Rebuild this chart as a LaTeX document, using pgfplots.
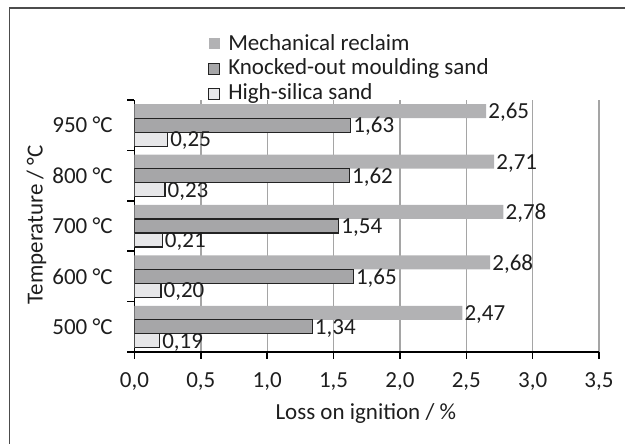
\documentclass[border=0pt]{standalone}
\usepackage{fontspec}
\setmainfont{Carlito}
\usepackage{pgfplots}
\pgfplotsset{compat=1.18}
\definecolor{mech}{RGB}{178,178,180}
\definecolor{knock}{RGB}{166,166,168}
\definecolor{silica}{RGB}{231,231,233}
\definecolor{edge}{RGB}{35,35,35}
\definecolor{gridc}{RGB}{165,165,165}
\definecolor{txt}{RGB}{30,30,30}
\newcommand{\fs}{\fontsize{23bp}{25bp}\selectfont}
\begin{document}
\fs
\begin{tikzpicture}[x=1bp,y=1bp]
\useasboundingbox (-134.5,-92) rectangle (490.5,352);
\draw[line width=1.5bp, black!70] (-125,-95) -- (-125,344) -- (495,344);
\begin{axis}[
  at={(0,0)}, anchor=south west,
  scale only axis, width=464.5bp, height=252bp,
  xmin=0, xmax=3.5, ymin=-0.5, ymax=4.5,
  axis lines*=left,
  axis line style={line width=1.5bp, black},
  xtick={0,0.5,...,3.5},
  xticklabel style={/pgf/number format/fixed, /pgf/number format/fixed zerofill, /pgf/number format/precision=1, /pgf/number format/use comma, yshift=-6bp},
  /pgf/number format/assume math mode=true,
  ytick={0,1,2,3,4},
  yticklabels={500 °C,600 °C,700 °C,800 °C,950 °C},
  minor ytick={-0.5,0.5,1.5,2.5,3.5,4.5},
  major y tick style={draw=none},
  tick align=outside,
  major tick length=7bp, minor tick length=7bp,
  tick style={line width=1.5bp, black},
  xtick pos=left, ytick pos=left,
  xmajorgrids,
  grid style={line width=1.3bp, gridc},
  ticklabel style={font=\fs, text=txt},
  yticklabel style={xshift=-7bp},
  xlabel={Loss on ignition / \%},
  ylabel={Temperature / °C},
  label style={font=\fs, text=txt},
  xlabel style={at={(axis description cs:0.498,-0.2698)}, anchor=base},
  ylabel style={at={(axis description cs:-0.198,0.505)}, anchor=base},
  xbar, bar width=14bp,
  nodes near coords,
  nodes near coords style={font=\fs, text=txt, inner sep=2bp, yshift=-1.5bp,
    /pgf/number format/fixed, /pgf/number format/fixed zerofill, /pgf/number format/precision=2, /pgf/number format/use comma},
  legend style={at={(0.152,1.278)}, anchor=north west, draw=none, fill=none,
    font=\fs, text=txt, row sep=1.5bp,
    /tikz/every odd column/.style={column sep=6bp}},
  legend cell align=left,
  legend image code/.code={\path[#1] (0bp,-5.5bp) rectangle (11bp,5.5bp);},
]
\addlegendimage{fill=mech, draw=none}
\addlegendimage{fill=knock, draw=edge, line width=1bp}
\addlegendimage{fill=silica, draw=edge, line width=1bp}
\addplot[fill=mech, draw=none, bar shift=14bp, forget plot] coordinates {(2.47,0) (2.68,1) (2.78,2) (2.71,3) (2.65,4)};
\addplot[fill=knock, draw=edge, line width=1.2bp, bar shift=0bp, forget plot] coordinates {(1.34,0) (1.65,1) (1.54,2) (1.62,3) (1.63,4)};
\addplot[fill=silica, draw=edge, line width=1.2bp, bar shift=-14bp, forget plot] coordinates {(0.19,0) (0.20,1) (0.21,2) (0.23,3) (0.25,4)};
\legend{Mechanical reclaim, Knocked-out moulding sand, High-silica sand}
\end{axis}
\end{tikzpicture}
\end{document}
